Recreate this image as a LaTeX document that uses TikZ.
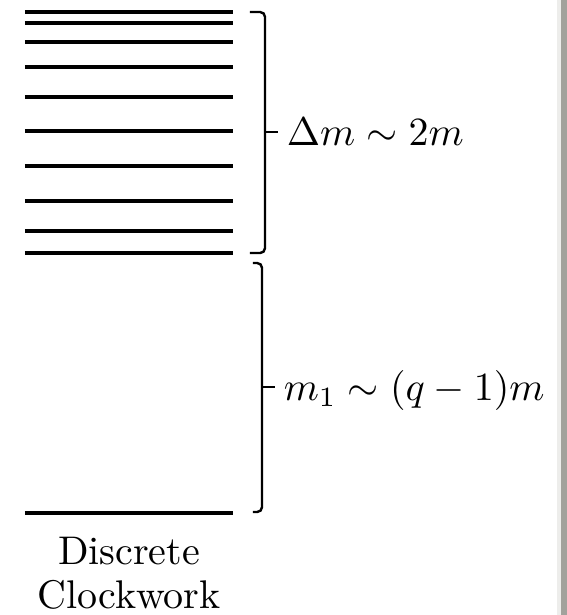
\documentclass[tikz,border=0pt]{standalone}
\usepackage{xcolor}
\usepackage{tikz}
\usetikzlibrary{positioning}
\definecolor{edgegray}{HTML}{A2A29C}
\definecolor{edgepale}{HTML}{EDEDEB}
\tikzset{
  energy/.style={line width=0.9pt,draw=black},
  span/.style  ={line width=0.6pt,draw=black,rounded corners=1.2pt},
  tag/.style   ={anchor=base west,inner sep=0pt,yshift=-3.4pt},
  caption/.style={align=center,inner sep=0pt,anchor=north}
}

\begin{document}
\begin{tikzpicture}[x=0.25pt,y=-0.25pt]
    \useasboundingbox (0,0) rectangle (567,615);
    % window edge of the screenshot
    \fill[edgepale] (557,0) rectangle (561,615);
    \fill[edgegray] (561,0) rectangle (567,615);
    % the dense band of levels
    \foreach \y [count=\i] in {12,23,42,67,97,131,166,201,231,253}
      \draw[energy] (25,\y) coordinate (lev\i) -- (233,\y);
    % the lowest level
    \draw[energy] (25,513) coordinate (zeroL) -- (233,513) coordinate (zeroR);
    \coordinate (zeroM) at (129,513);
    % braces
    \coordinate (tipA) at (278,132);
    \coordinate (tipB) at (275,387);
    \draw[span] (250,12) -| (265,253) -- (250,253);
    \draw[span] (265,132) -- (tipA);
    \draw[span] (253,263) -| (262,512) -- (253,512);
    \draw[span] (262,387) -- (tipB);
    \node[right=2pt of tipA,tag] (gap) {$\Delta m \sim 2m$};
    \node[right=2pt of tipB,tag] (mass) {$m_1 \sim (q-1)m$};
    \node[caption,below=5.8pt of zeroM] (name)
      {Discrete\\[-1pt]Clockwork};
\end{tikzpicture}
\end{document}
